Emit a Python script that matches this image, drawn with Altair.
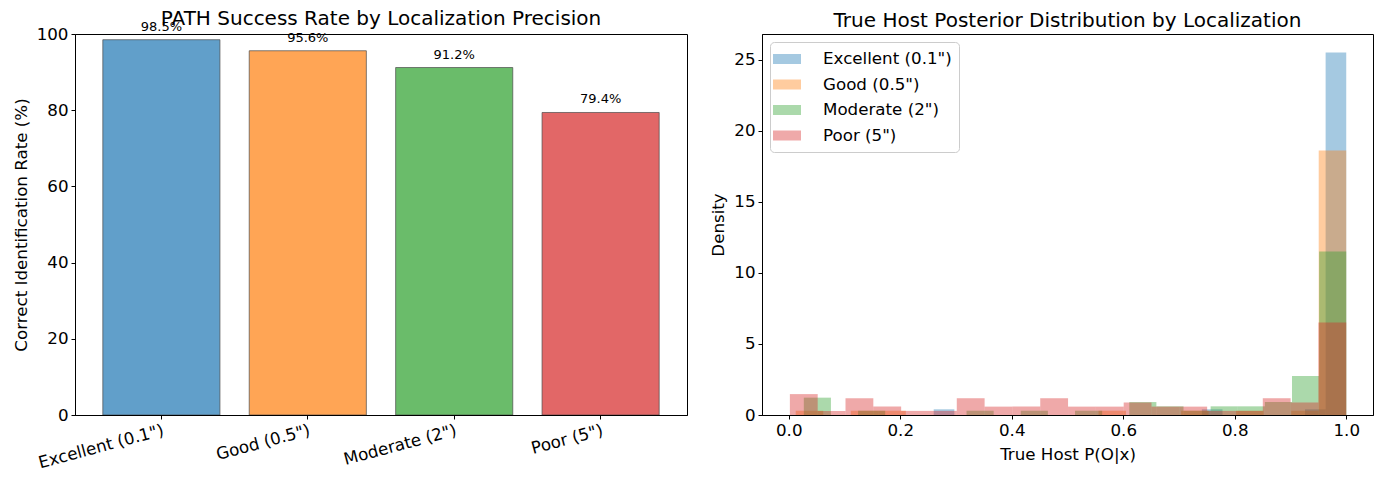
import altair as alt
import numpy as np
import pandas as pd

# ---- left panel data ----
categories = ['Excellent (0.1")', 'Good (0.5")', 'Moderate (2")', 'Poor (5")']
success_rate = [98.5, 95.6, 91.2, 79.4]
bar_colors = ["#1f77b4", "#ff7f0e", "#2ca02c", "#d62728"]

# ---- right panel data (histograms, 20 bins each, density) ----
series_names = ['Excellent (0.1")', 'Good (0.5")', 'Moderate (2")', 'Poor (5")']
bin_lo = [0.26, 0.0125, 0.027, 0.002]
bin_hi = [1.0, 1.0, 1.0, 1.0]
dens_excellent = [0.40, 0, 0, 0, 0, 0, 0, 0, 0, 0, 0, 0, 0, 0.40, 0, 0, 0, 0, 0.40, 25.5]
dens_good = [0.30, 0, 0.30, 0.30, 0, 0, 0, 0, 0, 0, 0, 0.30, 0, 0, 0.30, 0, 0.30, 0, 0.30, 18.6]
dens_moderate = [1.22, 0, 0.30, 0, 0, 0, 0.30, 0, 0.30, 0, 0.30, 0, 0.91, 0.61, 0.30, 0.61, 0.61, 0.91, 2.74, 11.5]
dens_poor = [1.47, 0.29, 1.18, 0.59, 0.29, 0.29, 1.18, 0.59, 0.59, 1.18, 0.59, 0.59, 0.88, 0.59, 0.59, 0.29, 0.29, 1.18, 0.88, 6.5]
densities = [dens_excellent, dens_good, dens_moderate, dens_poor]

FONT = "DejaVu Sans"
FS = 16.7

bars_df = pd.DataFrame({
    "cat": categories,
    "rate": success_rate,
    "label": [f"{v:.1f}%" for v in success_rate],
})

rows = []
for si, (name, lo, hi, dens) in enumerate(zip(series_names, bin_lo, bin_hi, densities)):
    edges = np.linspace(lo, hi, len(dens) + 1)
    for k, d in enumerate(dens):
        if d > 0:
            rows.append({"series": name, "order": si, "x0": edges[k], "x1": edges[k + 1], "d": d})
hist_df = pd.DataFrame(rows)

W, H = 612, 381

xb = alt.X("cat:N", sort=categories, title=None,
           scale=alt.Scale(paddingInner=0.2, paddingOuter=0.19),
           axis=alt.Axis(labelAngle=-15, labelAlign="right", labelBaseline="top",
                         labelPadding=3))
bars = alt.Chart(bars_df).mark_bar(opacity=0.7, stroke="black", strokeOpacity=0.7, strokeWidth=1).encode(
    x=xb,
    y=alt.Y("rate:Q", title="Correct Identification Rate (%)",
            scale=alt.Scale(domain=[0, 100], nice=False),
            axis=alt.Axis(values=[0, 20, 40, 60, 80, 100])),
    color=alt.Color("cat:N", scale=alt.Scale(domain=categories, range=bar_colors), legend=None),
)
texts = alt.Chart(bars_df).mark_text(baseline="alphabetic", dy=-9, fontSize=13, font=FONT, color="black").encode(
    x=alt.X("cat:N", sort=categories),
    y=alt.Y("rate:Q"),
    text="label:N",
)
left = alt.layer(bars, texts).properties(
    width=W, height=H,
    title=alt.TitleParams("PATH Success Rate by Localization Precision", fontSize=20,
                          fontWeight="normal", font=FONT, offset=-8, color="black"),
)

hist = alt.Chart(hist_df).mark_rect(opacity=0.4).encode(
    x=alt.X("x0:Q", title="True Host P(O|x)",
            scale=alt.Scale(domain=[-0.048, 1.048], nice=False, zero=False),
            axis=alt.Axis(values=[0, 0.2, 0.4, 0.6, 0.8, 1.0], format=".1f", titlePadding=8)),
    x2="x1:Q",
    y=alt.Y("d:Q", title="Density", scale=alt.Scale(domain=[0, 26.8], nice=False),
            axis=alt.Axis(values=[0, 5, 10, 15, 20, 25])),
    y2=alt.datum(0),
    color=alt.Color("series:N", scale=alt.Scale(domain=series_names, range=bar_colors),
                    legend=alt.Legend(title=None, orient="top-left", offset=8,
                                      symbolType="M-1.4,-0.5H1.4V0.5H-1.4Z", symbolSize=400,
                                      symbolOpacity=0.4, symbolStrokeWidth=0,
                                      labelFontSize=FS, labelFont=FONT, labelColor="black",
                                      labelOffset=26, rowPadding=6.5,
                                      strokeColor="#cccccc", fillColor="rgba(255,255,255,0.8)",
                                      padding=7, cornerRadius=4)),
    order=alt.Order("order:Q"),
)
right = hist.properties(
    width=W - 1, height=H,
    title=alt.TitleParams("True Host Posterior Distribution by Localization", fontSize=20,
                          fontWeight="normal", font=FONT, offset=3, color="black"),
)

chart = alt.hconcat(left, right, spacing=22).resolve_scale(
    color="independent"
).resolve_legend(
    color="independent"
).properties(
    padding={"left": 12, "top": 8, "right": 10, "bottom": 5},
    background="white",
).configure_view(
    stroke="black", strokeWidth=1
).configure_axis(
    labelFont=FONT, titleFont=FONT, labelFontSize=FS, titleFontSize=FS,
    titleFontWeight="normal", labelColor="black", titleColor="black",
    domainColor="black", tickColor="black", tickSize=4, grid=False,
    domainWidth=1, tickWidth=1, labelPadding=3, titlePadding=6,
)

chart.save("out.html", embed_options={"renderer": "svg", "actions": False})
